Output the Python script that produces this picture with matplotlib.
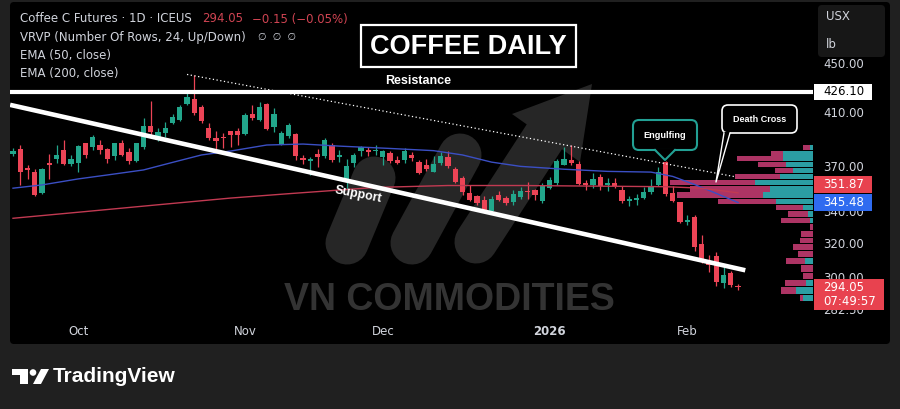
import numpy as np
import matplotlib
matplotlib.use('Agg')
import matplotlib.pyplot as plt
from matplotlib.patches import FancyBboxPatch, Rectangle, Polygon, Circle
from matplotlib.ticker import FixedLocator, NullLocator, FormatStrFormatter

# daily candles, Coffee C futures (ICEUS), mid Sep 2025 -> mid Feb 2026
opens = [379, 382.5, 369, 366, 351.5, 372.5, 375, 381.7, 372, 372.5,
         386.5, 383.5, 385.3, 382.5, 377, 387, 380.5, 374, 383.5, 399.6,
         389, 394, 401.5, 404.1, 416.5, 420.5, 414.4, 397.7, 390.5, 391.5,
         395.5, 395.5, 393.5, 409, 404, 416.6, 399, 386, 391.8, 393.5,
         375.7, 374, 379, 377.5, 385.3, 376.6, 360.6, 372.5, 380.8, 381.5,
         380.8, 376.5, 379.5, 374.5, 374.3, 378, 373, 371.3, 366.3, 372.3,
         376.4, 368.4, 361.9, 351.7, 349.5, 347, 340, 350.6, 348.4, 345.8,
         349.3, 353.3, 353.7, 346.2, 355.3, 358.2, 371.3, 374.5, 371.5, 358.5,
         357.2, 362.9, 357.3, 358.7, 353.9, 346.6, 347.2, 348.6, 352.5, 357.2,
         373, 352, 345.5, 332.8, 336.2, 319.5, 309, 312.3, 296.3, 302.5,
         294.2]
highs = [383, 385, 371, 368, 369, 378.5, 385, 389, 378, 385.3,
         387, 392.7, 389, 383, 387, 389, 383, 387, 405.3, 419,
         397.7, 402.8, 409, 415.7, 427.7, 440, 415.7, 401.5, 395.5, 394,
         396, 398, 409.7, 415.7, 417.8, 417.3, 413.2, 396, 401.5, 394.3,
         378, 376.8, 382.7, 390.7, 386.5, 382, 375.5, 379.7, 384.5, 384,
         385.3, 382, 381, 377, 383, 380, 374.5, 375, 377.4, 380.2,
         381, 369.6, 363, 357.2, 350.6, 349.5, 349.5, 353, 350, 353.9,
         355.5, 359, 354.5, 358.4, 362.5, 375, 384, 385.3, 374, 360.6,
         365.2, 365, 361.6, 361.6, 356.2, 349.5, 351, 355.6, 361.3, 369.5,
         374, 356.6, 345.9, 337.2, 337.6, 325, 312.8, 314.4, 305.6, 303.5,
         296]
lows = [377, 357, 361.5, 350, 351, 361.5, 372.5, 371, 370.5, 366,
        376, 381.7, 378.5, 372.5, 374.5, 377, 372, 373, 382.5, 391.8,
        388.3, 391, 400.7, 403.6, 415.7, 408, 401.5, 389, 380.5, 383,
        383.5, 385, 392.7, 404.1, 403.6, 396.5, 394.8, 385.3, 390.5, 374.3,
        371.7, 364, 369.8, 376, 373.4, 373.4, 354.3, 369.4, 377.4, 377.4,
        378, 371, 372.5, 371.5, 372.5, 374, 365, 367, 366, 370.8,
        369, 358.2, 350.6, 346.2, 344, 339.6, 339, 346.2, 344, 344,
        347.6, 347.6, 347, 345.4, 354.5, 357.2, 371, 371, 357, 353.5,
        355, 354, 353, 355, 345.2, 343, 344, 347.7, 350.8, 356.8,
        350, 345.5, 332, 331.3, 315.4, 308, 302.8, 295.1, 293.5, 294.3,
        292.8]
closes = [381, 366, 367.5, 350.5, 368, 371, 378, 372, 375, 384.5,
          378, 391.5, 381.7, 375, 386.5, 378, 374, 386.5, 399.6, 394.7,
          394.7, 397.7, 406.6, 414.4, 421.7, 409.5, 403, 390.5, 388.5, 390.5,
          392.5, 393, 408, 405.3, 414.4, 397.3, 409, 394, 400.2, 377,
          374.3, 375.5, 376.8, 389, 374.5, 378, 370.4, 377.9, 383.5, 380.5,
          381.8, 381, 373.5, 372.3, 381.3, 375.6, 365.5, 368.5, 371.8, 377,
          370, 359.3, 352.5, 347.3, 345.3, 340.5, 347.5, 347.3, 345.3, 351.3,
          353.2, 352.2, 350.6, 357.2, 360.6, 374, 375.4, 372.5, 357.5, 357,
          361.3, 356.5, 358.7, 356.5, 346.2, 347.7, 348.2, 352.2, 356.8, 366.2,
          351, 346.5, 333, 334.5, 317.5, 309, 307, 297, 301, 295.2,
          294.05]

# moving averages (bar index, value)
ema50_idx = [0, 4, 9, 13, 18, 22, 26, 30, 35, 40, 45, 52, 58, 62, 66, 70, 76, 82, 88, 91, 94, 97, 100]
ema50_val = [355, 357.2, 361.3, 364, 367.5, 372.8, 378.1, 380.9, 385.3, 386, 384.5, 382.8,
             381.2, 378.1, 373, 370, 368, 366.5, 366, 363, 357.5, 351.5, 345.48]
ema200_idx = [0, 10, 20, 30, 38, 50, 60, 70, 80, 90, 95, 100]
ema200_val = [335.3, 339.6, 344, 348.4, 351.3, 355.5, 356.8, 356.8, 356.4, 356, 355, 351.87]

# visible range volume profile, 24 rows top -> bottom
vp_top, vp_bottom = 385.6, 286.2
vp_up = [10, 90, 90, 80, 60, 100, 175, 130, 150, 110, 30, 15,
         10, 0, 0, 0, 0, 0, 25, 0, 0, 20, 50, 30]
vp_down = [20, 35, 140, 85, 55, 135, 255, 240, 260, 175, 80, 60,
           85, 10, 35, 40, 60, 45, 55, 35, 30, 65, 45, 10]

price_ticks = [450, 410, 370, 340, 320, 300, 282.5]
date_ticks = [9, 32, 51, 74, 93]
date_labels = ['Oct', 'Nov', 'Dec', '2026', 'Feb']

resistance = 426.10
support_x, support_y = [-0.4, 101], [415.8, 303.8]
dotted_x, dotted_y = [24, 99.6], [440.5, 362.8]
last_price, ema50_last, ema200_last = 294.05, 345.48, 351.87

GREEN, RED = '#22a68b', '#ec4456'
TEXT = '#d1d4dc'
W, H = 900, 409

fig = plt.figure(figsize=(W / 100, H / 100), dpi=100, facecolor='#202020')

# background: black panel + watermark
bg = fig.add_axes([0, 0, 1, 1], zorder=0)
bg.set_xlim(0, W); bg.set_ylim(H, 0); bg.axis('off')
bg.add_patch(FancyBboxPatch((10, 2), 880, 342, boxstyle='round,pad=0,rounding_size=4',
                            fc='black', ec='none'))
wm = '#262626'
for (x0, y0, x1, y1) in [(347, 243, 374, 178), (412, 243, 460, 155), (476, 242, 552, 125)]:
    bg.plot([x0, x1], [y0, y1], color=wm, lw=31, solid_capstyle='round')
bg.add_patch(Polygon([(512, 114), (592, 84), (580, 162)], closed=True, fc=wm, ec='none'))
bg.text(449, 300, 'VN COMMODITIES', color='#333333', fontsize=27, fontweight='bold',
        family='Liberation Sans', ha='center', va='center')

# main price chart
ax = fig.add_axes([10 / W, (H - 318) / H, 803 / W, 316 / H], zorder=1)
ax.patch.set_alpha(0)
ax.set_yscale('log')
xmin, xmax = -0.414, 110.34
ax.set_xlim(xmin, xmax)
ax.set_ylim(277.5, 505.4)
for s in ax.spines.values():
    s.set_visible(False)

idx = np.arange(len(opens))
o, h, l, c = map(np.array, (opens, highs, lows, closes))
cols = np.where(c >= o, GREEN, RED)
ax.vlines(idx, l, h, colors=cols, lw=0.9, zorder=3)
bot = np.minimum(o, c)
hgt = np.maximum(np.abs(c - o), 0.6)
ax.bar(idx, hgt, bottom=bot, width=0.7, color=cols, lw=0, zorder=3)

# volume profile, anchored to the right edge
up = np.array(vp_up, float); dn = np.array(vp_down, float)
edges = np.linspace(vp_top, vp_bottom, len(vp_up) + 1)
lo, hi = edges[1:], edges[:-1]
k = 0.178 * (xmax - xmin) / (up + dn).max()
gap = 0.3
ax.barh(lo + gap, up * k, height=(hi - lo) - 2 * gap, left=xmax - up * k, align='edge',
        color='#2b9ea3', lw=0, zorder=2)
ax.barh(lo + gap, dn * k, height=(hi - lo) - 2 * gap, left=xmax - (up + dn) * k, align='edge',
        color='#ad3464', lw=0, zorder=2)

ax.plot(ema50_idx, ema50_val, color='#3b4fc4', lw=1.0, zorder=4)
ax.plot(ema200_idx, ema200_val, color='#c23a52', lw=1.0, zorder=4)

ax.axhline(resistance, color='white', lw=3.0, zorder=5)
ax.plot(support_x, support_y, color='white', lw=3.3, zorder=5, solid_capstyle='butt')
ax.plot(dotted_x, dotted_y, color='white', lw=0.9, ls=(0, (1, 2)), zorder=5)

ax.text(55.9, 435.1, 'Resistance', color='white', fontsize=9, fontweight='bold',
        family='Liberation Sans', ha='center', va='center', zorder=6)
ax.text(47.6, 350.5, 'Support', color='white', fontsize=9, fontweight='bold',
        family='Liberation Sans', ha='center', va='center', rotation=-11, zorder=6)

ax.yaxis.tick_right()
ax.yaxis.set_major_locator(FixedLocator(price_ticks))
ax.yaxis.set_minor_locator(NullLocator())
ax.yaxis.set_major_formatter(FormatStrFormatter('%.2f'))
ax.tick_params(axis='y', length=0, pad=7.2, labelsize=8.5, labelcolor=TEXT)
ax.set_xticks(date_ticks, date_labels)
ax.tick_params(axis='x', length=0, pad=4.7, labelsize=8.5, labelcolor=TEXT)
for t in ax.get_xticklabels():
    if t.get_text() == '2026':
        t.set_fontweight('bold')


def py(v):
    # pixel row (from top) of a price on the main axis
    return H - ax.transData.transform((0, v))[1]


# overlay: legend, labels, callouts
ov = fig.add_axes([0, 0, 1, 1], zorder=3)
ov.set_xlim(0, W); ov.set_ylim(H, 0); ov.axis('off')

legend_lines = ['Coffee C Futures · 1D · ICEUS', 'VRVP (Number Of Rows, 24, Up/Down)',
                'EMA (50, close)', 'EMA (200, close)']
for j, s in enumerate(legend_lines):
    ov.text(20, 19 + 18 * j, s, color=TEXT, fontsize=8.5, va='center')
ov.text(202, 19, '294.05', color='#cf4452', fontsize=8.5, va='center')
ov.text(252, 19, '−0.15 (−0.05%)', color='#cf4452', fontsize=8.5, va='center')
ov.text(258, 37, '∅  ∅  ∅', color=TEXT, fontsize=7, va='center')

# title box
ov.add_patch(Rectangle((361, 25), 215, 42, fc='black', ec='white', lw=1.6))
ov.text(468.5, 46.5, 'COFFEE DAILY', color='white', fontsize=19.5, fontweight='bold',
        family='Liberation Sans', ha='center', va='center')

# currency box
ov.add_patch(FancyBboxPatch((818, 5), 67, 52, boxstyle='round,pad=0,rounding_size=4',
                            fc='#171717', ec='none'))
ov.text(826, 17, 'USX', color=TEXT, fontsize=8.5, va='center')
ov.text(826, 44, 'lb', color=TEXT, fontsize=8.5, va='center')

# price scale labels
yr = py(resistance)
ov.add_patch(Rectangle((814, yr - 8.3), 58, 16.6, fc='white', ec='none'))
ov.text(823, yr, '%.2f' % resistance, color='black', fontsize=8.5, va='center')
yb = py(ema50_last)
ya = min(py(ema200_last), yb - 18)
ov.add_patch(Rectangle((814, ya - 8.5), 58, 17, fc='#e8424f', ec='none'))
ov.text(823, ya, '%.2f' % ema200_last, color='white', fontsize=8.5, va='center')
ov.add_patch(Rectangle((814, yb - 8.5), 58, 17, fc='#2f6bf0', ec='none'))
ov.text(823, yb, '%.2f' % ema50_last, color='white', fontsize=8.5, va='center')
yp = py(last_price)
ov.add_patch(Rectangle((814, yp - 8.5), 70, 31, fc='#e8424f', ec='none'))
ov.text(823, yp, '%.2f' % last_price, color='white', fontsize=8.5, va='center')
ov.text(823, yp + 14.5, '07:49:57', color='white', fontsize=8.5, va='center')

# Engulfing callout
teal = '#22a094'
ov.add_patch(FancyBboxPatch((633, 120), 64, 30, boxstyle='round,pad=0,rounding_size=6',
                            fc='black', ec=teal, lw=1.5))
ov.add_patch(Polygon([(655, 148.5), (675, 148.5), (665, 160)], closed=True, fc='black', ec='none'))
ov.plot([655, 665, 675], [150, 160, 150], color=teal, lw=1.5)
ov.text(665, 135, 'Engulfing', color='white', fontsize=6.6, fontweight='bold',
        family='Liberation Sans', ha='center', va='center')

# Death Cross callout
ov.add_patch(FancyBboxPatch((722, 105), 75, 28, boxstyle='round,pad=0,rounding_size=6',
                            fc='black', ec='white', lw=1.2))
ov.add_patch(Polygon([(724, 132), (730, 132), (716, 182)], closed=True, fc='black', ec='none'))
ov.plot([724, 716, 730], [133, 182, 133], color='white', lw=1.0)
ov.text(759.5, 119, 'Death Cross', color='white', fontsize=6.5, fontweight='bold',
        family='Liberation Sans', ha='center', va='center')

# TradingView footer
ov.add_patch(Rectangle((12, 369), 16, 5.5, fc='white', ec='none'))
ov.add_patch(Rectangle((19.5, 369), 8.5, 15, fc='white', ec='none'))
ov.add_patch(Circle((33, 372.5), 3.3, fc='white', ec='none'))
ov.add_patch(Polygon([(33, 384), (41, 384), (49, 369), (41, 369)], closed=True, fc='white', ec='none'))
ov.text(53, 377, 'TradingView', color='white', fontsize=15, fontweight='bold',
        family='Liberation Sans', va='center')

fig.savefig('out.png', dpi=100, facecolor=fig.get_facecolor())
